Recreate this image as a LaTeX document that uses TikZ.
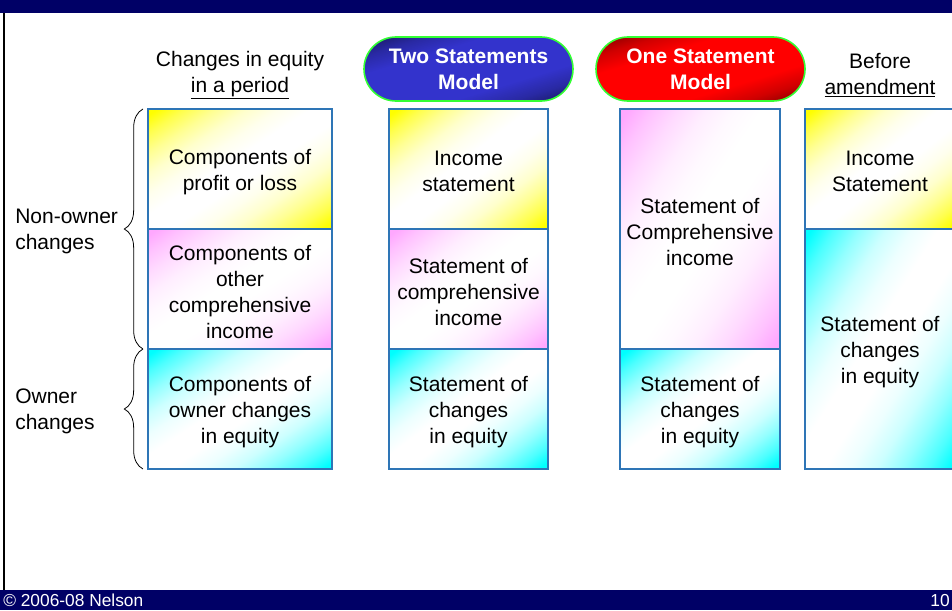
\documentclass[tikz,border=0pt]{standalone}
\usepackage{fontspec}
\setmainfont{Liberation Sans}
\usetikzlibrary{decorations.pathreplacing}
\definecolor{navy}{HTML}{000066}
\definecolor{cellborder}{HTML}{2E75B6}
\definecolor{cyanc}{HTML}{00FFFF}
\definecolor{pinkc}{HTML}{FFA8FF}
\definecolor{yelc}{HTML}{FFFF00}
\definecolor{btnblue}{HTML}{3333CC}
\definecolor{btnbluedark}{HTML}{1A1A66}
\definecolor{btnred}{HTML}{FF0000}
\definecolor{btnreddark}{HTML}{8A0000}
\definecolor{btnedge}{HTML}{33FF33}
\newcommand\mkcellshade[2]{%
  \pgfdeclareverticalshading{#1}{100bp}{color(0bp)=(#2); color(17bp)=(#2); color(22bp)=(#2!70); color(28bp)=(#2!42); color(34bp)=(#2!20); color(40bp)=(#2!7); color(46bp)=(white); color(54bp)=(white); color(60bp)=(#2!7); color(66bp)=(#2!20); color(72bp)=(#2!42); color(78bp)=(#2!70); color(83bp)=(#2); color(100bp)=(#2)}}
\mkcellshade{shY}{yelc}
\mkcellshade{shP}{pinkc}
\mkcellshade{shC}{cyanc}
\pgfdeclareverticalshading{shB}{100bp}{color(0bp)=(btnbluedark); color(20bp)=(btnbluedark); color(28bp)=(btnblue!60!btnbluedark); color(37bp)=(btnblue); color(63bp)=(btnblue); color(72bp)=(btnblue!60!btnbluedark); color(80bp)=(btnbluedark); color(100bp)=(btnbluedark)}
\pgfdeclareverticalshading{shR}{100bp}{color(0bp)=(btnreddark); color(20bp)=(btnreddark); color(28bp)=(btnred!60!btnreddark); color(37bp)=(btnred); color(63bp)=(btnred); color(72bp)=(btnred!60!btnreddark); color(80bp)=(btnreddark); color(100bp)=(btnreddark)}
\begin{document}
\begin{tikzpicture}[x=0.75pt,y=-0.75pt,
  txt/.style={font=\fontsize{15.75}{19.5}\selectfont, align=center, inner sep=0pt},
  cell/.style={draw=cellborder, line width=0.9pt, minimum width=#1*0.75pt, inner sep=0pt},
  yel/.style={shading=shY, shading angle=#1},
  pnk/.style={shading=shP, shading angle=#1},
  cyn/.style={shading=shC, shading angle=#1},
  h120/.style={minimum height=90pt},
  h240/.style={minimum height=180pt},
  btn/.style={draw=btnedge, line width=1.2pt, rounded corners=24pt, minimum width=156.75pt, minimum height=48pt,
     text=white, font=\fontsize{15.75}{19.5}\selectfont\bfseries, align=center, inner sep=0pt},
  brc/.style={decorate, decoration={brace, amplitude=14pt}, line width=0.6pt},
  side/.style={font=\fontsize{15.75}{19.5}\selectfont, align=left, anchor=west, inner sep=0pt}]
\useasboundingbox (0,0) rectangle (952,610);
% frame bars
\fill[navy] (0,0) rectangle (952,13);
\fill[navy] (0,590) rectangle (952,610);
\fill[black] (2.5,13) rectangle (5,590);
\node[anchor=base west, text=white, font=\fontsize{13}{14}\selectfont, inner sep=0pt] (foot) at (3,606) {\textcopyright{} 2006-08 Nelson};
\node[anchor=base east, text=white, font=\fontsize{13}{14}\selectfont, inner sep=0pt] (pnum) at (950,606) {10};
% headers
\node[txt] (h1) at (240,75) {Changes in equity\\\underline{in a period}};
\node[txt] (h4) at (880,75) {Before\\\underline{amendment}};
\node[btn, shading=shB, shading angle=17] (b2) at (468.5,69) {\raisebox{-1.5pt}{Two Statements}\\\raisebox{-1.5pt}{Model}};
\node[btn, shading=shR, shading angle=17] (b3) at (700.5,69) {\raisebox{-1.5pt}{One Statement}\\\raisebox{-1.5pt}{Model}};
% column 1
\node[cell=184, h120, yel=33] (c11) at (240,169) {};
\node[cell=184, h120, pnk=33] (c12) at (240,289) {};
\node[cell=184, h120, cyn=33] (c13) at (240,409) {};
% column 2
\node[cell=159, h120, yel=37] (c21) at (468.5,169) {};
\node[cell=159, h120, pnk=37] (c22) at (468.5,289) {};
\node[cell=159, h120, cyn=37] (c23) at (468.5,409) {};
% column 3
\node[cell=160, h240, pnk=56] (c31) at (700,229) {};
\node[cell=160, h120, cyn=37] (c32) at (700,409) {};
% column 4
\node[cell=152, h120, yel=38] (c41) at (881,169) {};
\node[cell=152, h240, cyn=58] (c42) at (881,349) {};
% cell texts
\node[txt] (t11) at ([yshift=-2pt]c11.center) {Components of\\profit or loss};
\node[txt] (t12) at ([yshift=-2pt]c12.center) {Components of\\other\\comprehensive\\income};
\node[txt] (t13) at ([yshift=-2pt]c13.center) {Components of\\owner changes\\in equity};
\node[txt] (t21) at ([yshift=-2pt]c21.center) {Income\\statement};
\node[txt] (t22) at ([yshift=-2pt]c22.center) {Statement of\\comprehensive\\income};
\node[txt] (t23) at ([yshift=-2pt]c23.center) {Statement of\\changes\\in equity};
\node[txt] (t31) at ([yshift=-2pt]c31.center) {Statement of\\Comprehensive\\income};
\node[txt] (t32) at ([yshift=-2pt]c32.center) {Statement of\\changes\\in equity};
\node[txt] (t41) at ([xshift=-0.75pt,yshift=-2pt]c41.center) {Income\\Statement};
\node[txt] (t42) at ([xshift=-0.75pt,yshift=-2pt]c42.center) {Statement of\\changes\\in equity};
% braces
\coordinate (bA) at (143,349);
\coordinate (bB) at (143,109);
\coordinate (bC) at (143,469);
\draw[brc] (bA) -- (bB);
\draw[brc] (bC) -- (bA);
\node[side] (l1) at (15,231) {Non-owner\\changes};
\node[side] (l2) at (15,411) {Owner\\changes};
\end{tikzpicture}
\end{document}
